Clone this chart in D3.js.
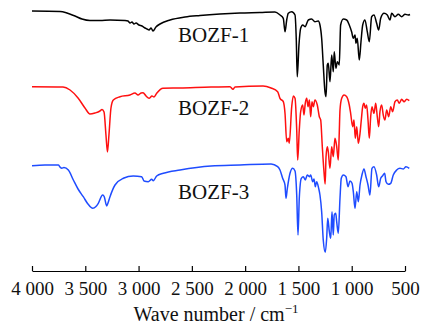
<!DOCTYPE html>
<html><head><meta charset="utf-8">
<script src="https://cdn.jsdelivr.net/npm/d3@7"></script>
<style>html,body{margin:0;padding:0;background:#fff;}svg{display:block;}</style>
</head><body>
<script>
// Wavenumber (cm^-1) , transmittance (a.u., stacked)
const bozf1 = [[4000,260],[3737,259.5],[3672,258],[3597,255],[3531,252],[3456,250.5],[3362,250.5],[3268,251],[3127,250.5],[3099,250],[3080,248],[3062,249],[3043,247],[3024,248],[2996,246],[2968,245],[2940,243],[2921,242],[2902,241],[2883,243],[2865,240],[2837,244],[2799,247],[2705,251],[2564,254],[2424,255.5],[2236,257],[2048,258],[1861,258.5],[1720,259],[1673,256],[1642,252.7],[1626,239.3],[1610,251],[1595,257.7],[1563,259.3],[1532,256],[1520,231],[1511,194.3],[1495,226],[1479,242.7],[1460,246],[1438,244.3],[1407,251],[1376,252],[1345,249.3],[1314,250],[1298,246],[1282,232.7],[1267,206],[1251,179.3],[1241,174.3],[1229,206],[1220,207.7],[1204,189.3],[1188,216],[1173,199.3],[1164,219.3],[1148,202.7],[1135,209.3],[1117,206],[1104,246],[1079,252],[1047,251],[1023,246],[1001,239.3],[985,232.7],[969,236],[960,227.7],[948,232.7],[929,211],[913,229.3],[897,246],[876,251],[854,239.3],[835,229.3],[813,254.3],[791,256],[766,247.7],[747,241],[728,252.7],[697,257.7],[666,256],[641,251],[625,257.7],[594,254.3],[563,256.7],[531,254.3],[500,256.7],[469,256],[453,256.5]];
const bozf2 = [[4000,184.3],[3709,184],[3643,181],[3568,173],[3503,163],[3456,157],[3409,158],[3362,160],[3343,161.5],[3324,159],[3306,136],[3292,119],[3278,136],[3259,163],[3237,171],[3174,174.3],[3081,176],[3034,178],[3005,176],[2977,178],[2958,178.3],[2930,175],[2902,172.7],[2874,175],[2855,174],[2830,177.7],[2771,182.7],[2611,183],[2320,184],[2142,184.3],[2114,181.7],[2095,184],[1832,185],[1757,183],[1695,179.3],[1673,172.7],[1642,169.3],[1626,157.7],[1610,129.3],[1595,132.7],[1586,127.7],[1563,164.3],[1548,175],[1532,172.7],[1516,141],[1507,111],[1492,141],[1479,159.3],[1460,166],[1448,156],[1436,167.7],[1422,172.7],[1410,164.3],[1397,171],[1385,154.3],[1373,169.3],[1360,164.3],[1345,171],[1323,166],[1304,154.3],[1291,151],[1276,124.3],[1260,99],[1249,87],[1241,114.3],[1229,124.3],[1220,119.3],[1204,102.7],[1188,124.3],[1173,114.3],[1157,132.7],[1141,124.3],[1126,111],[1117,137.7],[1110,161],[1094,172.7],[1072,176],[1047,174.3],[1023,166],[1010,157.7],[991,144.3],[979,151],[966,132.7],[953,144.3],[938,127.7],[922,137.7],[910,151],[897,164.3],[885,167.7],[873,162.7],[860,166],[847,151],[835,132.7],[822,154.3],[810,164.3],[791,157.7],[775,167.7],[760,154.3],[747,144.3],[735,159.3],[719,166],[704,156],[688,151],[672,161],[653,154.3],[634,164.3],[616,159.3],[594,169.3],[572,171],[554,167.7],[531,171.7],[509,169.3],[484,171.7],[460,170.3]];
const bozf3 = [[4000,105.3],[3878,106],[3753,106],[3737,104],[3721,102.7],[3700,103.5],[3659,101],[3612,91],[3568,82],[3519,74.3],[3475,67],[3430,62.7],[3400,64.5],[3378,67.7],[3337,76],[3322,74.3],[3299,65],[3287,68],[3268,74.3],[3221,86],[3143,92.7],[3050,95],[2971,94.3],[2949,90],[2909,89.3],[2877,91.7],[2862,90.3],[2830,95],[2768,97.7],[2611,101],[2320,105],[2048,106],[1757,107],[1695,104.3],[1673,101],[1648,92.7],[1626,86],[1617,72.7],[1604,82.7],[1579,97.7],[1554,102.7],[1532,100],[1516,76],[1504,36],[1492,72.7],[1473,92.7],[1454,94.3],[1436,91],[1417,96],[1397,94.3],[1385,96],[1366,89.3],[1354,92],[1341,84.3],[1329,89.3],[1310,82.7],[1298,76],[1282,59.3],[1267,31],[1248,18.7],[1235,32.7],[1225,52.7],[1210,39.3],[1197,32.7],[1185,59.3],[1173,36],[1164,56],[1150,57.7],[1141,49.3],[1126,37.7],[1110,72.7],[1098,92.7],[1079,96],[1054,94.3],[1035,84.3],[1016,90],[997,87.7],[985,79.3],[969,62.7],[953,79.3],[938,69.3],[922,86],[904,96],[885,102],[866,94.3],[847,86],[829,76],[810,102.7],[791,104.3],[766,96],[747,84.3],[728,92.7],[709,95.3],[691,97.7],[678,89.3],[657,86.7],[634,87.7],[610,96],[578,101],[547,102.7],[516,102],[491,104.3],[460,102.7]];

const seriesNames = ["BOZF-1","BOZF-2","BOZF-3"];
const seriesColors = ["#000000","#ff1010","#1f4cff"];
const labelPos = [[2630,229],[2630,156],[2630,72]]; // label anchor in data units
const tickValues = [4000,3500,3000,2500,2000,1500,1000,500];
const tickLabels = ["4\u00a0000","3\u00a0500","3\u00a0000","2\u00a0500","2\u00a0000","1\u00a0500","1\u00a0000","500"];

const W = 422, H = 330;
const svg = d3.select("body").append("svg").attr("width", W).attr("height", H)
  .style("font-family", "'Liberation Serif','Times New Roman',serif");

const x = d3.scaleLinear().domain([4000, 500]).range([32, 405]);
const y = d3.scaleLinear().domain([0, 270]).range([271, 1]);

const line = d3.line().x(d => x(d[0])).y(d => y(d[1])).curve(d3.curveMonotoneX);

[bozf1, bozf2, bozf3].forEach((s, i) => {
  svg.append("path").datum(s).attr("d", line)
    .attr("fill", "none").attr("stroke", seriesColors[i])
    .attr("stroke-width", 1.5).attr("stroke-linejoin", "round");
  svg.append("text").attr("x", x(labelPos[i][0])).attr("y", y(labelPos[i][1]))
    .attr("font-size", 21).attr("fill", "#111").text(seriesNames[i]);
});

const axis = d3.axisBottom(x).tickValues(tickValues)
  .tickFormat((d, i) => tickLabels[i]).tickSizeInner(-5).tickSizeOuter(0).tickPadding(11);
const g = svg.append("g").attr("transform", `translate(0,${y(0)})`).call(axis);
g.select(".domain").attr("stroke", "#000").attr("stroke-width", 1.2);
g.selectAll(".tick line").attr("stroke", "#000").attr("stroke-width", 1.2);
g.selectAll(".tick text").attr("font-size", 19).attr("fill", "#111")
  .style("font-family", "'Liberation Serif','Times New Roman',serif");

const t = svg.append("text").attr("x", 216).attr("y", 321).attr("text-anchor", "middle")
  .attr("font-size", 20).attr("fill", "#111");
t.append("tspan").text("Wave number / cm");
t.append("tspan").attr("font-size", 13).attr("dy", -8).text("\u22121");
</script>
</body></html>
